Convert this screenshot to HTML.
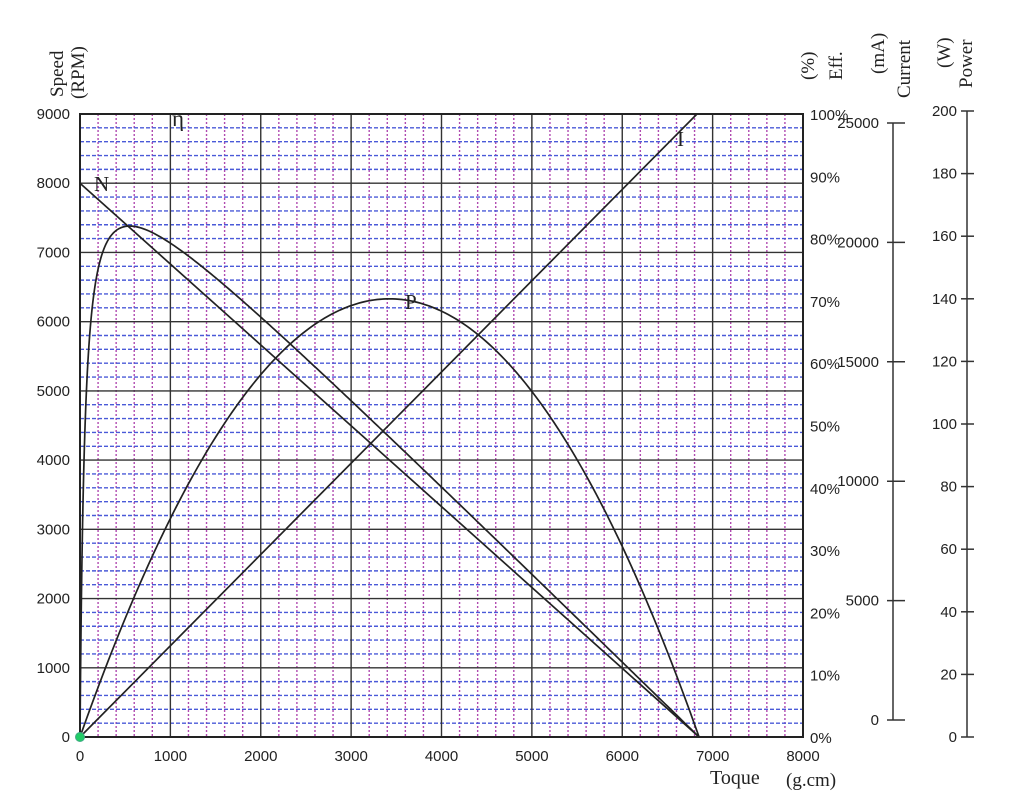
<!DOCTYPE html>
<html><head><meta charset="utf-8"><style>
html,body{margin:0;padding:0;background:#fff;}
svg{display:block;font-family:"Liberation Sans",sans-serif;}
.s{font-family:"Liberation Serif",serif;}
</style></head><body>
<svg id="c" width="1024" height="796" viewBox="0 0 1024 796">
<rect width="1024" height="796" fill="#fff"/>
<g id="grid"></g>
<g id="curves" fill="none" stroke="#222" stroke-width="1.7"></g>
<rect x="80" y="114" width="723" height="623" fill="none" stroke="#222" stroke-width="2"/>
<g id="labels" font-size="15" fill="#222"></g>
<text class="s" x="0" y="0" font-size="19" fill="#222" transform="translate(63,97) rotate(-90)">Speed</text>
<text class="s" x="0" y="0" font-size="19" fill="#222" transform="translate(84,99) rotate(-90)">(RPM)</text>
<text class="s" x="0" y="0" font-size="19" fill="#222" transform="translate(814,80) rotate(-90)">(%)</text>
<text class="s" x="0" y="0" font-size="19" fill="#222" transform="translate(842,80) rotate(-90)">Eff.</text>
<text class="s" x="0" y="0" font-size="19" fill="#222" transform="translate(884,74) rotate(-90)">(mA)</text>
<text class="s" x="0" y="0" font-size="19" fill="#222" transform="translate(910,98) rotate(-90)">Current</text>
<text class="s" x="0" y="0" font-size="19" fill="#222" transform="translate(950,68) rotate(-90)">(W)</text>
<text class="s" x="0" y="0" font-size="19" fill="#222" transform="translate(972,88) rotate(-90)">Power</text>
<text class="s" x="710" y="784" font-size="20" fill="#222">Toque</text>
<text class="s" x="786" y="786" font-size="19" fill="#222">(g.cm)</text>
<text class="s" x="94" y="191" font-size="21" fill="#222">N</text>
<text class="s" x="172" y="126" font-size="23" fill="#222">η</text>
<text class="s" x="405" y="309" font-size="21" fill="#222">P</text>
<text class="s" x="677" y="146" font-size="21" fill="#222">I</text>
<circle cx="80" cy="737" r="4.5" fill="#2c6" stroke="#4a8" stroke-width="1"/>
</svg>
<script>
var NS="http://www.w3.org/2000/svg";
function el(p,t,a,txt){var e=document.createElementNS(NS,t);for(var k in a)e.setAttribute(k,a[k]);if(txt!==undefined)e.textContent=txt;p.appendChild(e);return e;}
var X0=80,X1=803,Y0=737,Y1=114;
function px(t){return X0+(X1-X0)*t/8000;}
function py(s){return Y0-(Y0-Y1)*s/9000;}
var g=document.getElementById('grid');
for(var t=200;t<8000;t+=200){if(t%1000)el(g,'line',{x1:px(t),x2:px(t),y1:Y1,y2:Y0,stroke:'#b04ab0','stroke-width':1.4,'stroke-dasharray':'2,2'});}
for(var s=200;s<9000;s+=200){if(s%1000)el(g,'line',{x1:X0,x2:X1,y1:py(s),y2:py(s),stroke:'#4a5ad8','stroke-width':1.4,'stroke-dasharray':'4,2'});}
for(var t=1000;t<8000;t+=1000)el(g,'line',{x1:px(t),x2:px(t),y1:Y1,y2:Y0,stroke:'#333','stroke-width':1.4});
for(var s=1000;s<9000;s+=1000)el(g,'line',{x1:X0,x2:X1,y1:py(s),y2:py(s),stroke:'#333','stroke-width':1.4});
var L=document.getElementById('labels');
for(var s=0;s<=9000;s+=1000)el(L,'text',{x:70,y:py(s)+5,'text-anchor':'end'},''+s);
for(var t=0;t<=8000;t+=1000)el(L,'text',{x:px(t),y:761,'text-anchor':'middle'},''+t);
for(var e=0;e<=100;e+=10)el(L,'text',{x:810,y:py(e*90)+6},e+'%');
el(L,'line',{x1:893,x2:893,y1:123,y2:720,stroke:'#333','stroke-width':1.5});
for(var i=0;i<=5;i++){var y=720-i*(720-123)/5;el(L,'line',{x1:887,x2:905,y1:y,y2:y,stroke:'#333','stroke-width':1.5});el(L,'text',{x:879,y:y+5,'text-anchor':'end'},''+i*5000);}
el(L,'line',{x1:967,x2:967,y1:111,y2:737,stroke:'#333','stroke-width':1.5});
for(var i=0;i<=10;i++){var y=737-i*(737-111)/10;el(L,'line',{x1:961,x2:974,y1:y,y2:y,stroke:'#333','stroke-width':1.5});el(L,'text',{x:957,y:y+5,'text-anchor':'end'},''+i*20);}
var C=document.getElementById('curves');var T0=6850;
el(C,'line',{x1:px(0),y1:py(8000),x2:px(T0),y2:py(0)});
el(C,'line',{x1:px(0),y1:py(0),x2:697,y2:114});
var d='',a=52.6,c=0.977;
for(var i=0;i<=400;i++){var t=T0*Math.pow(i/400,1.6);var e=c*t*(1-t/T0)/(t+a);d+=(i?'L':'M')+px(t).toFixed(2)+' '+py(e*9000).toFixed(2);}
el(C,'path',{d:d});
d='';for(var i=0;i<=200;i++){var t=T0*i/200;var p=4*t*(T0-t)/(T0*T0)*6330;d+=(i?'L':'M')+px(t).toFixed(2)+' '+py(p).toFixed(2);}
el(C,'path',{d:d});
</script>
</body></html>
